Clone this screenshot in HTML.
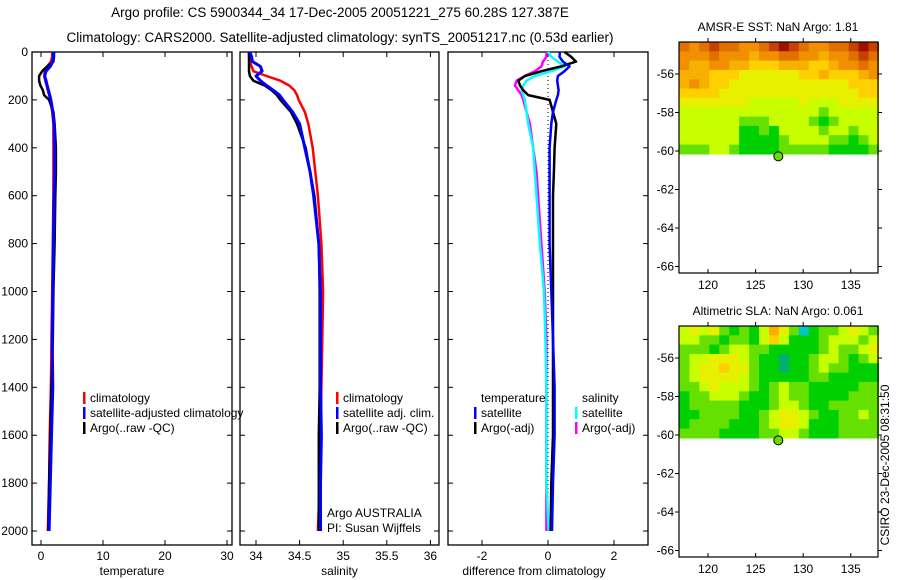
<!DOCTYPE html>
<html><head><meta charset="utf-8"><style>
body{margin:0;background:#fff}
svg{display:block;font-family:"Liberation Sans",sans-serif}
</style></head><body>
<svg id="fig" width="900" height="580" xmlns="http://www.w3.org/2000/svg">
<text x="340" y="17" font-size="13.5" text-anchor="middle">Argo profile: CS 5900344_34 17-Dec-2005 20051221_275 60.28S 127.387E</text>
<text x="340" y="42" font-size="13.5" text-anchor="middle">Climatology: CARS2000. Satellite-adjusted climatology: synTS_20051217.nc (0.53d earlier)</text>
<g id="g"></g>
</svg>
<script>
// ---------- data ----------
const depths=[0,20,40,60,80,100,120,140,160,180,200,250,300,400,500,600,800,1000,1200,1400,1600,1800,2000];
const tempClim=[1.8,1.8,1.6,1.0,0.6,0.5,0.7,0.9,1.1,1.3,1.5,1.8,2.0,2.0,2.0,2.0,1.9,1.8,1.7,1.6,1.4,1.3,1.1];
const tempSat=[2.0,2.0,1.9,1.5,0.8,0.6,0.8,1.0,1.2,1.4,1.6,1.9,2.1,2.2,2.2,2.1,2.0,1.9,1.8,1.9,1.7,1.5,1.3];
const tempArgo=[2.1,2.1,2.0,1.0,0.2,-0.3,-0.3,-0.1,0.3,0.5,1.3,2.0,2.2,2.4,2.4,2.3,2.2,2.0,1.9,1.7,1.5,1.3,1.2];
const salClim=[33.92,33.92,33.93,33.95,33.97,34.12,34.28,34.38,34.44,34.47,34.49,34.56,34.6,34.65,34.68,34.71,34.75,34.77,34.76,34.75,34.74,34.73,34.71];
const salSat=[33.93,33.95,33.96,34.05,34.07,34.0,34.05,34.12,34.2,34.27,34.31,34.42,34.5,34.56,34.62,34.66,34.72,34.74,34.74,34.74,34.75,34.74,34.74];
const salArgo=[33.92,33.92,33.92,33.92,33.92,33.93,33.97,34.1,34.18,34.24,34.28,34.4,34.47,34.57,34.62,34.67,34.72,34.73,34.73,34.73,34.72,34.72,34.72];
const dTempSat=[0.36,0.35,0.45,0.65,0.5,0.3,0.28,0.3,0.32,0.3,0.25,0.15,0.1,0.05,0.05,0.05,0.05,0.1,0.15,0.2,0.2,0.15,0.12];
const dTempArgo=[0.5,0.7,0.85,0.4,-0.2,-0.7,-0.9,-0.85,-0.75,-0.6,0.05,0.15,0.25,0.2,0.18,0.15,0.15,0.15,0.15,0.15,0.15,0.1,0.08];
const dSalSat=[0,0.1,0.3,0.5,0.1,-0.4,-0.65,-0.75,-0.8,-0.75,-0.7,-0.65,-0.6,-0.45,-0.4,-0.35,-0.25,-0.12,-0.08,-0.05,-0.05,-0.05,0.02];
const dSalArgo=[-0.05,-0.05,-0.15,-0.2,-0.4,-0.7,-0.95,-1.0,-0.9,-0.8,-0.75,-0.65,-0.55,-0.45,-0.35,-0.3,-0.2,-0.1,-0.05,-0.05,-0.05,-0.05,-0.05];
const depthTicks=[0,200,400,600,800,1000,1200,1400,1600,1800,2000];
const tempTicks=[0,10,20,30];
const salTicks=[34,34.5,35,35.5,36];
const diffTicks=[-2,0,2];
const lonTicks=[120,125,130,135];
const latTicks=[-56,-58,-60,-62,-64,-66];
const sstGrid=[
[7,6,7,8,7,7,6,6,7,8,9,8,7,6,6,7,7,8,9,8],
[6,6,6,7,6,6,6,5,6,6,7,7,6,6,5,6,6,7,8,7],
[6,5,5,6,6,5,5,4,4,4,5,5,5,4,4,5,6,6,7,6],
[5,5,5,4,4,4,3,3,3,3,3,3,4,4,5,4,4,4,5,6],
[5,6,5,4,4,3,3,3,3,3,3,3,3,3,3,3,3,4,4,4],
[4,4,4,4,3,3,3,3,3,3,3,3,3,3,3,3,3,3,4,4],
[3,3,3,3,3,3,3,2,2,2,2,2,3,2,2,2,3,3,3,3],
[2,2,2,2,2,2,2,2,2,2,2,2,2,2,1,2,2,2,2,2],
[2,2,2,2,2,2,1,1,1,2,2,2,2,1,0,1,2,2,2,2],
[2,2,2,2,2,2,0,0,1,0,2,2,2,2,1,2,2,1,2,2],
[2,2,2,2,2,2,0,0,0,0,1,2,2,2,2,1,1,0,1,2],
[1,1,1,2,2,1,0,0,0,0,1,1,1,1,1,0,0,0,0,1]];
const slaGrid=[
[2,3,2,3,1,0,1,0,2,5,3,1,-2,0,1,1,2,3,2,1],
[2,2,1,1,0,1,1,0,2,4,2,0,0,0,1,2,2,2,1,2],
[1,1,1,0,1,2,2,1,1,0,0,0,0,0,1,2,1,1,2,3],
[1,2,2,3,3,3,2,1,0,0,-1,0,0,1,2,2,1,0,1,2],
[1,2,3,3,4,3,3,1,0,0,-1,0,0,1,2,1,1,0,0,0],
[1,2,3,3,3,3,2,1,0,0,0,0,0,1,1,0,0,0,0,0],
[1,1,2,3,2,2,2,1,0,1,2,1,1,0,0,0,0,0,1,1],
[0,1,1,2,2,2,1,0,0,1,2,1,1,0,0,0,0,1,1,1],
[0,1,1,1,1,1,0,0,0,1,2,2,1,0,0,1,1,1,1,1],
[0,0,1,1,1,1,0,0,1,2,3,3,2,1,0,0,1,1,2,1],
[0,1,1,1,1,0,0,0,1,2,3,3,2,0,0,0,1,1,1,1],
[1,1,1,1,0,0,0,0,1,1,2,2,1,0,0,0,1,1,1,1]];
const floatLon=127.387, floatLat=-60.28;
// ---------- helpers ----------
const NS="http://www.w3.org/2000/svg";
const G=document.getElementById('g');
function mk(tag,at,parent){const e=document.createElementNS(NS,tag);for(const k in at)e.setAttribute(k,at[k]);(parent||G).appendChild(e);return e;}
const yD=d=>52+d*0.2395;
const Y0=52,Y1=545;
function panel(name,x0,x1,xs,ticks,fmt,label,leftLabels){
  const p=mk('g',{});
  
  
  const r=mk('rect',{x:x0,y:Y0,width:x1-x0,height:Y1-Y0,fill:'none',stroke:'#000','stroke-width':1.3},p);
  
  
  depthTicks.forEach(d=>{
    mk('line',{x1:x0,x2:x0+5,y1:yD(d),y2:yD(d),stroke:'#000'},p);
    mk('line',{x1:x1,x2:x1-5,y1:yD(d),y2:yD(d),stroke:'#000'},p);
    if(leftLabels){const t=mk('text',{x:x0-4,y:yD(d)+4,'font-size':12,'text-anchor':'end'},p);t.textContent=d;
      
      }
  });
  ticks.forEach(v=>{
    const x=xs(v);
    mk('line',{x1:x,x2:x,y1:Y1,y2:Y1-5,stroke:'#000'},p);
    mk('line',{x1:x,x2:x,y1:Y0,y2:Y0+5,stroke:'#000'},p);
    const t=mk('text',{x:x,y:Y1+15,'font-size':12,'text-anchor':'middle'},p);t.textContent=fmt(v);
    
    
  });
  const t=mk('text',{x:(x0+x1)/2-(name==='difference-panel'?14:0),y:575,'font-size':12,'text-anchor':'middle'},p);t.textContent=label;
  
  
  return p;
}
function line(p,xs,vals,col,nm,w){
  const pts=vals.map((v,i)=>xs(v).toFixed(1)+','+yD(depths[i]).toFixed(1)).join(' ');
  const l=mk('polyline',{points:pts,fill:'none',stroke:col,'stroke-width':w||2.5,'stroke-linejoin':'round'},p);
  
  
}
function legend(p,x,y,items){
  items.forEach((it,i)=>{
    if(it[0]) mk('rect',{x:x,y:y+i*15-10,width:2.5,height:12,fill:it[0]},p);
    const t=mk('text',{x:x+7,y:y+i*15,'font-size':12},p);t.textContent=it[1];
    
    
  });
}
// ---------- panel 1 temperature ----------
const xT=v=>41+v*6.2;
const p1=panel('temperature-panel',32,232,xT,tempTicks,v=>v,'temperature',true);
line(p1,xT,tempClim,'#f00','temp-climatology-line');
line(p1,xT,tempArgo,'#000','temp-argo-line');
line(p1,xT,tempSat,'#00f','temp-satellite-line',3);
legend(p1,83,402,[['#f00','climatology'],['#00f','satellite-adjusted climatology'],['#000','Argo(..raw -QC)']]);
// ---------- panel 2 salinity ----------
const xS=v=>256+(v-34)*87.2;
const p2=panel('salinity-panel',240,439,xS,salTicks,v=>v,'salinity',false);
line(p2,xS,salClim,'#f00','sal-climatology-line');
line(p2,xS,salArgo,'#000','sal-argo-line');
line(p2,xS,salSat,'#00f','sal-satellite-line',3);
legend(p2,336,402,[['#f00','climatology'],['#00f','satellite adj. clim.'],['#000','Argo(..raw -QC)']]);
legend(p2,320,517,[[null,'Argo AUSTRALIA'],[null,'PI: Susan Wijffels']]);
// ---------- panel 3 difference ----------
const xF=v=>548+v*33;
const p3=panel('difference-panel',448,648,xF,diffTicks,v=>v,'difference from climatology',false);
mk('line',{x1:xF(0),x2:xF(0),y1:yD(0),y2:yD(2000),stroke:'#000','stroke-dasharray':'1,3'},p3);
line(p3,xF,dSalArgo,'#f0f','diff-sal-argo-line');
line(p3,xF,dSalSat,'#0ff','diff-sal-satellite-line');
line(p3,xF,dTempArgo,'#000','diff-temp-argo-line');
line(p3,xF,dTempSat,'#00f','diff-temp-satellite-line');
legend(p3,474,402,[[null,'temperature'],['#00f','satellite'],['#000','Argo(-adj)']]);
legend(p3,575,402,[[null,'salinity'],['#0ff','satellite'],['#f0f','Argo(-adj)']]);
// ---------- maps ----------
const colors={'-2':'#00c8c8','-1':'#00b070','0':'#00d000','1':'#66e000','2':'#c8ff00','3':'#e8f000','4':'#ffd000','5':'#f8b000','6':'#f09000','7':'#e07000','8':'#c84000','9':'#a01000'};
function map(name,top,grid,title){
  const p=mk('g',{});
  
  
  const x0=679,x1=878,y1=top+231;
  const lonX=v=>708+(v-120)*9.52;
  const latY=v=>top+32+(-56-v)*19.25;
  const latTop=-56+32/19.25, latBot=-60.15;
  const rows=grid.length, cols=grid[0].length;
  const lon0=117, lon1=137.9;
  grid.forEach((row,r)=>row.forEach((v,c)=>{
    const ya=latY(latTop-(latTop-latBot)*r/rows), yb=latY(latTop-(latTop-latBot)*(r+1)/rows);
    const xa=lonX(lon0+(lon1-lon0)*c/cols), xb=lonX(lon0+(lon1-lon0)*(c+1)/cols);
    const cell=mk('rect',{x:xa.toFixed(1),y:ya.toFixed(1),width:(xb-xa+0.6).toFixed(1),height:(yb-ya+0.6).toFixed(1),fill:colors[v]},p);
    
    
  }));
  mk('rect',{x:x0,y:top,width:x1-x0,height:231,fill:'none',stroke:'#000','stroke-width':1.2},p);
  lonTicks.forEach(v=>{const x=lonX(v);
    mk('line',{x1:x,x2:x,y1:y1,y2:y1-4,stroke:'#000'},p);
    mk('line',{x1:x,x2:x,y1:top,y2:top-4,stroke:'#000'},p);
    const t=mk('text',{x:x,y:y1+16,'font-size':12,'text-anchor':'middle'},p);t.textContent=v;
    
    });
  latTicks.forEach(v=>{const y=latY(v);
    mk('line',{x1:x0,x2:x0-4,y1:y,y2:y,stroke:'#000'},p);
    mk('line',{x1:x1,x2:x1+4,y1:y,y2:y,stroke:'#000'},p);
    const t=mk('text',{x:x0-5,y:y+4,'font-size':12,'text-anchor':'end'},p);t.textContent=v;
    
    });
  const dot=mk('circle',{cx:lonX(floatLon),cy:latY(floatLat),r:4.5,fill:'#66dd00',stroke:'#000'},p);
  
  
  const t=mk('text',{x:778,y:top-11,'font-size':12,'text-anchor':'middle'},p);t.textContent=title;
  
  
}
map('sst-map',42,sstGrid,'AMSR-E SST: NaN Argo: 1.81');
map('sla-map',326,slaGrid,'Altimetric SLA: NaN Argo: 0.061');
const cs=mk('text',{x:0,y:0,'font-size':12,'text-anchor':'middle',transform:'translate(889,465) rotate(-90)'});
cs.textContent='CSIRO 23-Dec-2005 08:31:50';


</script>
</body></html>
